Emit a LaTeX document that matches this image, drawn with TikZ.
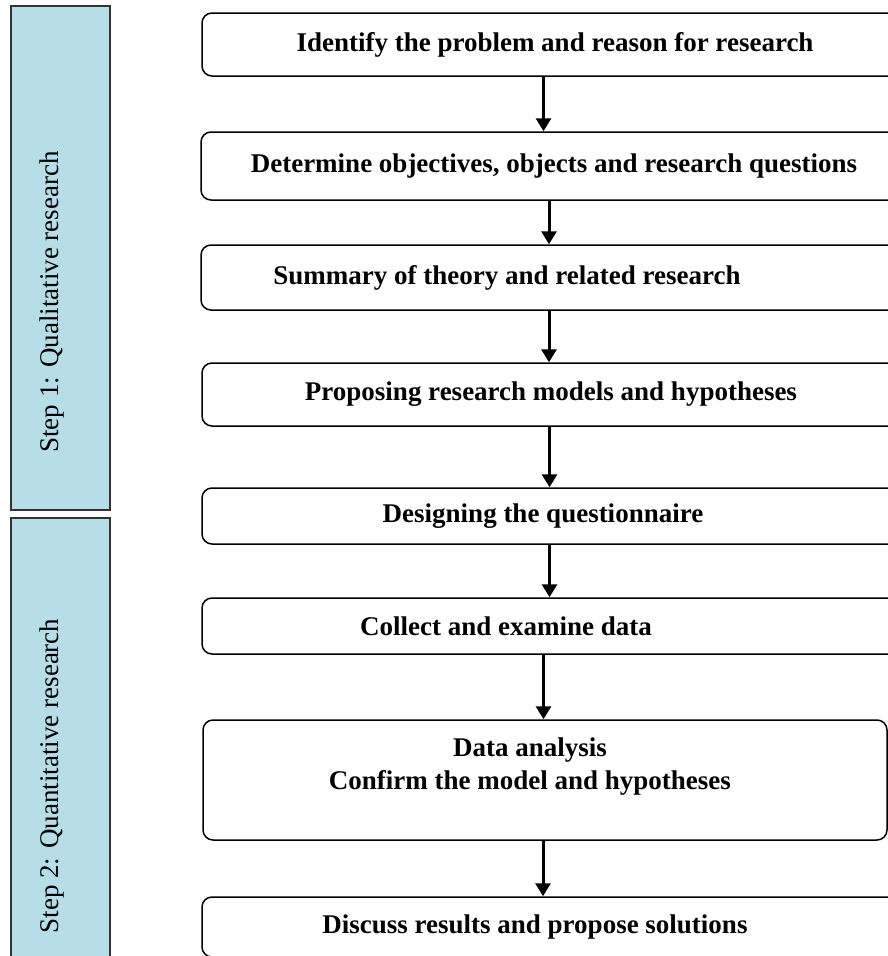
\documentclass[tikz,border=0pt]{standalone}
\usepackage{fontspec}
\setmainfont{Liberation Serif}
\usetikzlibrary{arrows.meta}
\definecolor{stepblue}{HTML}{B7DDE8}
\begin{document}
\begin{tikzpicture}[x=1pt,y=-1pt,
  box/.style={draw,line width=1.5pt,rounded corners=10pt,inner sep=0pt},
  lbl/.style={font=\fontsize{27}{33}\selectfont\bfseries,align=center,inner sep=0pt},
  bar/.style={draw=black!80,line width=1.2pt,fill=stepblue},
  side/.style={font=\fontsize{27}{31}\selectfont,rotate=90,inner sep=0pt},
  arr/.style={line width=3pt,-{Triangle[length=13pt,width=15pt]}}]
\useasboundingbox (0,0) rectangle (888,956);
\clip (0,0) rectangle (888,956);
\draw[bar] (11,6) rectangle (110,510);
\draw[bar] (11,518) rectangle (110,975);
\node[side] (q1) at (52,302) {Step 1: Qualitative research};
\node[side] (q2) at (52,776) {Step 2: Quantitative research};
\node[box,minimum width=703pt,minimum height=63pt] (s1) at (553.5,44.5) {};
\node[box,minimum width=704pt,minimum height=68pt] (s2) at (553,166) {};
\node[box,minimum width=704pt,minimum height=65pt] (s3) at (553,277.5) {};
\node[box,minimum width=703pt,minimum height=63pt] (s4) at (553.5,394.5) {};
\node[box,minimum width=703pt,minimum height=56pt] (s5) at (553.5,516) {};
\node[box,minimum width=703pt,minimum height=56pt] (s6) at (553.5,626) {};
\node[box,minimum width=684pt,minimum height=120pt] (s7) at (545,780) {};
\node[box,minimum width=703pt,minimum height=60pt] (s8) at (553.5,927) {};
\node[lbl] (t1) at (555,44.5) {Identify the problem and reason for research};
\node[lbl] (t2) at (554,166) {Determine objectives, objects and research questions};
\node[lbl] (t3) at (507,277.5) {Summary of theory and related research};
\node[lbl] (t4) at (551,394.5) {Proposing research models and hypotheses};
\node[lbl] (t5) at (543,516) {Designing the questionnaire};
\node[lbl] (t6) at (506,626) {Collect and examine data};
\node[lbl] (t7) at (530,767) {Data analysis\\Confirm the model and hypotheses};
\node[lbl] (t8) at (535,927) {Discuss results and propose solutions};
\draw[arr] ([xshift=-10pt]s1.south) -- ([xshift=-10pt]s1.south |- s2.north);
\draw[arr] ([xshift=-4pt]s2.south) -- ([xshift=-4pt]s2.south |- s3.north);
\draw[arr] ([xshift=-4pt]s3.south) -- ([xshift=-4pt]s3.south |- s4.north);
\draw[arr] ([xshift=-4pt]s4.south) -- ([xshift=-4pt]s4.south |- s5.north);
\draw[arr] ([xshift=-4pt]s5.south) -- ([xshift=-4pt]s5.south |- s6.north);
\draw[arr] ([xshift=-10pt]s6.south) -- ([xshift=-10pt]s6.south |- s7.north);
\draw[arr] ([xshift=-2pt]s7.south) -- ([xshift=-2pt]s7.south |- s8.north);
\end{tikzpicture}
\end{document}
